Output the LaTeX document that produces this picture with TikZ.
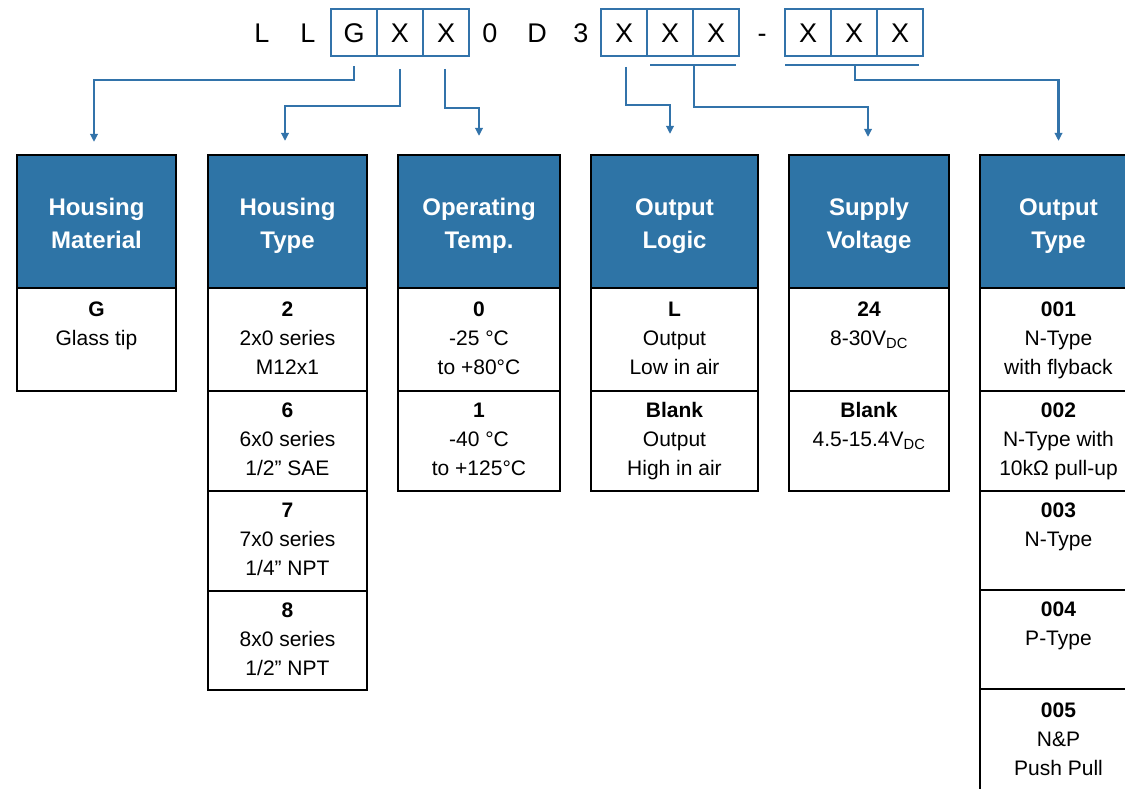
\documentclass[tikz,border=0pt]{standalone}
\usepackage{fontspec}
\setmainfont{Liberation Sans}
\usetikzlibrary{arrows.meta}
\definecolor{hdrblue}{RGB}{46,116,166}
\definecolor{lineblue}{RGB}{50,115,170}
\newcommand{\hstrut}{\rule{0pt}{31pt}}
\begin{document}
\begin{tikzpicture}[x=1pt,y=-1pt,
  codebox/.style={draw=lineblue, line width=2pt, minimum width=46pt, minimum height=47pt, inner sep=0pt,
    text height=19.5pt, text depth=0pt, font=\fontsize{27}{30}\selectfont},
  codeletter/.style={inner sep=0pt, minimum height=47pt, text height=19.5pt, text depth=0pt,
    font=\fontsize{27}{30}\selectfont},
  hdr/.style={draw=black, fill=hdrblue, line width=2.2pt, text=white,
    font=\fontsize{24}{33}\selectfont\bfseries, align=center, inner sep=0pt, minimum height=133pt},
  cell/.style={draw=black, line width=2.2pt, font=\fontsize{21}{29}\selectfont, align=center, inner sep=0pt},
  conn/.style={draw=lineblue, line width=2.2pt, -{Triangle[length=8pt,width=7.5pt]}},
  bracket/.style={draw=lineblue, line width=2.2pt},
]
\useasboundingbox (0,0) rectangle (1125,789);
\clip (0,0) rectangle (1125,789);

% ---- code line ----
\node[codeletter] (l1) at (262,33) {L};
\node[codeletter] (l2) at (308,33) {L};
\node[codebox] (cg)  at (354,33) {G};
\node[codebox] (cx1) at (400,33) {X};
\node[codebox] (cx2) at (446,33) {X};
\node[codeletter] (n0) at (490,33) {0};
\node[codeletter] (nd) at (537,33) {D};
\node[codeletter] (n3) at (581,33) {3};
\node[codebox] (cx3) at (624,33) {X};
\node[codebox] (cx4) at (670,33) {X};
\node[codebox] (cx5) at (716,33) {X};
\node[codeletter] (dash) at (762,33) {-};
\node[codebox] (cx6) at (808,33) {X};
\node[codebox] (cx7) at (854,33) {X};
\node[codebox] (cx8) at (900,33) {X};

% ---- headers ----
\node[hdr, minimum width=159pt] (h1) at (96.5,221.5) {\hstrut Housing\\\strut Material};
\node[hdr, minimum width=159pt] (h2) at (287.5,221.5) {\hstrut Housing\\\strut Type};
\node[hdr, minimum width=162pt] (h3) at (479,221.5) {\hstrut Operating\\\strut Temp.};
\node[hdr, minimum width=167pt] (h4) at (674.5,221.5) {\hstrut Output\\\strut Logic};
\node[hdr, minimum width=160pt] (h5) at (869,221.5) {\hstrut Supply\\\strut Voltage};
\node[hdr, minimum width=157pt] (h6) at (1058.5,221.5) {\hstrut Output\\\strut Type};

% ---- cells ----
\node[cell, minimum width=159pt, minimum height=103pt] (m1) at (96.5,339.5) {\strut\textbf{G}\\\strut Glass tip\\\strut};

\node[cell, minimum width=159pt, minimum height=103pt] (t1) at (287.5,339.5) {\strut\textbf{2}\\\strut 2x0 series\\\strut M12x1};
\node[cell, minimum width=159pt, minimum height=100pt] (t2) at (287.5,441) {\strut\textbf{6}\\\strut 6x0 series\\\strut 1/2” SAE};
\node[cell, minimum width=159pt, minimum height=100pt] (t3) at (287.5,541) {\strut\textbf{7}\\\strut 7x0 series\\\strut 1/4” NPT};
\node[cell, minimum width=159pt, minimum height=99pt] (t4) at (287.5,640.5) {\strut\textbf{8}\\\strut 8x0 series\\\strut 1/2” NPT};

\node[cell, minimum width=162pt, minimum height=103pt] (o1) at (479,339.5) {\strut\textbf{0}\\\strut -25 °C\\\strut to +80°C};
\node[cell, minimum width=162pt, minimum height=100pt] (o2) at (479,441) {\strut\textbf{1}\\\strut -40 °C\\\strut to +125°C};

\node[cell, minimum width=167pt, minimum height=103pt] (g1) at (674.5,339.5) {\strut\textbf{L}\\\strut Output\\\strut Low in air};
\node[cell, minimum width=167pt, minimum height=100pt] (g2) at (674.5,441) {\strut\textbf{Blank}\\\strut Output\\\strut High in air};

\node[cell, minimum width=160pt, minimum height=103pt] (v1) at (869,339.5) {\strut\textbf{24}\\\strut 8-30V\textsubscript{DC}\\\strut};
\node[cell, minimum width=160pt, minimum height=100pt] (v2) at (869,441) {\strut\textbf{Blank}\\\strut 4.5-15.4V\textsubscript{DC}\\\strut};

\node[cell, minimum width=157pt, minimum height=103pt] (y1) at (1058.5,339.5) {\strut\textbf{001}\\\strut N-Type\\\strut with flyback};
\node[cell, minimum width=157pt, minimum height=100pt] (y2) at (1058.5,441) {\strut\textbf{002}\\\strut N-Type with\\\strut 10kΩ pull-up};
\node[cell, minimum width=157pt, minimum height=99pt] (y3) at (1058.5,540.5) {\strut\textbf{003}\\\strut N-Type\\\strut};
\node[cell, minimum width=157pt, minimum height=99pt] (y4) at (1058.5,639.5) {\strut\textbf{004}\\\strut P-Type\\\strut};
\node[cell, minimum width=157pt, minimum height=104pt] (y5) at (1058.5,741) {\strut\textbf{005}\\\strut N\&P\\\strut Push Pull};

% ---- connectors ----
\draw[conn, shorten >=12pt] ([yshift=-9pt]cg.south) -- ([yshift=-22.5pt]cg.south) -| ([xshift=-2.5pt]h1.north);
\draw[conn, shorten >=13pt] ([yshift=-11.5pt]cx1.south) -- ([yshift=-48.5pt]cx1.south) -| ([xshift=-2.5pt]h2.north);
\draw[conn, shorten >=18pt] ([xshift=-1pt,yshift=-11.5pt]cx2.south) -- ([xshift=-1pt,yshift=-50.5pt]cx2.south) -| (h3.north);
\draw[conn, shorten >=20pt] ([xshift=2pt,yshift=-9.5pt]cx3.south) -- ([xshift=2pt,yshift=-47.5pt]cx3.south) -| ([xshift=-4.5pt]h4.north);

\coordinate (b1l) at ([xshift=4pt,yshift=-7.5pt]cx4.south west);
\coordinate (b1r) at ([xshift=-4pt,yshift=-7.5pt]cx5.south east);
\coordinate (b1m) at ([yshift=-7.5pt]cx4.south east);
\draw[bracket] (b1l) -- (b1r);
\draw[conn, shorten >=17pt] (b1m) -- ([yshift=-49.5pt]cx4.south east) -| ([xshift=-1pt]h5.north);

\coordinate (b2l) at ([xshift=1pt,yshift=-7.5pt]cx6.south west);
\coordinate (b2r) at ([xshift=-5pt,yshift=-7.5pt]cx8.south east);
\coordinate (b2m) at ([xshift=1pt,yshift=-7.5pt]cx7.south);
\draw[bracket] (b2l) -- (b2r);
\draw[conn, shorten >=13pt] (b2m) -- ([xshift=1pt,yshift=-22.5pt]cx7.south) -| (h6.north);
\end{tikzpicture}
\end{document}
